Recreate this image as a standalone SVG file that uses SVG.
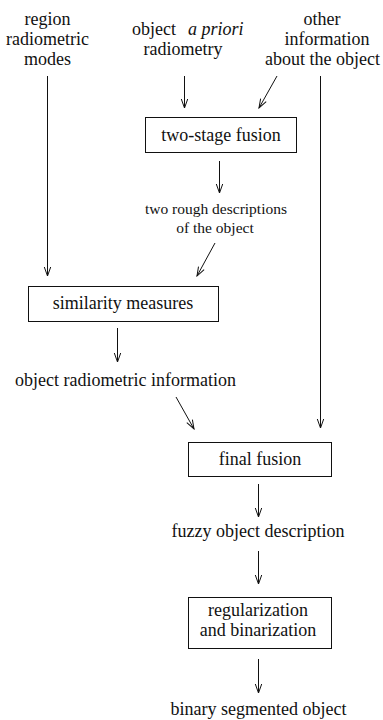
<svg xmlns="http://www.w3.org/2000/svg" width="383" height="720" viewBox="0 0 383 720" font-family="Liberation Serif, DejaVu Serif, serif">
<style>
text{font-family:'Liberation Serif','DejaVu Serif',serif;font-size:18px;fill:#111;text-anchor:middle}
.sm{font-size:15.5px}
.it{font-style:italic}
.box{fill:#fff;stroke:#111;stroke-width:1}
.c line{stroke:#111;stroke-width:1;marker-end:url(#ah)}
</style>
<defs>
<marker id="ah" markerUnits="userSpaceOnUse" viewBox="-10 -5 11 10" refX="0" refY="0" markerWidth="11" markerHeight="10" orient="auto">
<path d="M-9,-3.2 L0,0 L-9,3.2" fill="none" stroke="#111" stroke-width="1"/>
</marker>
</defs>
<rect width="383" height="720" fill="#fff"/>
<g id="in-region">
<text x="47.5" y="24.5">region</text>
<text x="47.5" y="44.5">radiometric</text>
<text x="47.5" y="64.5">modes</text>
</g>
<g id="in-object">
<text x="132" y="34.5" style="text-anchor:start">object</text>
<text x="188" y="34.5" class="it" style="text-anchor:start">a priori</text>
<text x="183" y="54.5">radiometry</text>
</g>
<g id="in-other">
<text x="322" y="24.5">other</text>
<text x="327" y="44.5">information</text>
<text x="322.5" y="64.5">about the object</text>
</g>
<g id="two-stage">
<rect class="box" x="145.5" y="117.5" width="151" height="35"/>
<text x="221" y="141">two-stage fusion</text>
</g>
<g id="rough">
<text class="sm" x="216" y="214">two rough descriptions</text>
<text class="sm" x="215" y="233">of the object</text>
</g>
<g id="similarity">
<rect class="box" x="28.5" y="286.5" width="190" height="35"/>
<text x="123" y="309">similarity measures</text>
</g>
<g id="radiometric-info">
<text x="125.5" y="386">object radiometric information</text>
</g>
<g id="final">
<rect class="box" x="188.5" y="442.5" width="143" height="34"/>
<text x="260" y="465">final fusion</text>
</g>
<g id="fuzzy">
<text x="258" y="537">fuzzy object description</text>
</g>
<g id="regularization">
<rect class="box" x="188.5" y="597.5" width="143" height="51"/>
<text x="258" y="616">regularization</text>
<text x="258" y="636">and binarization</text>
</g>
<g id="binary">
<text x="258.5" y="715">binary segmented object</text>
</g>
<g class="c" id="connectors">
<line x1="47.5" y1="76" x2="47.5" y2="276"/>
<line x1="184.5" y1="76" x2="184.5" y2="108"/>
<line x1="277" y1="76" x2="259" y2="108"/>
<line x1="320.5" y1="76" x2="320.5" y2="428"/>
<line x1="219.5" y1="161" x2="219.5" y2="193"/>
<line x1="215" y1="243" x2="197" y2="276"/>
<line x1="117.5" y1="328" x2="117.5" y2="362"/>
<line x1="176" y1="397" x2="194" y2="429"/>
<line x1="258.5" y1="484" x2="258.5" y2="517"/>
<line x1="258.5" y1="551" x2="258.5" y2="584"/>
<line x1="258.5" y1="659" x2="258.5" y2="693"/>
</g>
</svg>
